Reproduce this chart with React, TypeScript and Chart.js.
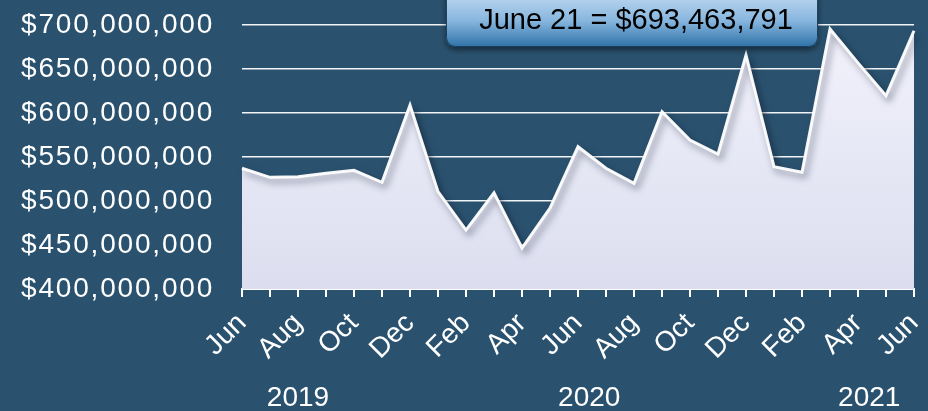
import React, { useEffect, useRef } from 'react';
import { Chart, registerables } from 'chart.js';

Chart.register(...registerables);

const months = ['Jun', 'Jul', 'Aug', 'Sep', 'Oct', 'Nov', 'Dec', 'Jan', 'Feb', 'Mar', 'Apr', 'May', 'Jun', 'Jul', 'Aug', 'Sep', 'Oct', 'Nov', 'Dec', 'Jan', 'Feb', 'Mar', 'Apr', 'May', 'Jun'];
const revenue = [537200000, 526900000, 527600000, 531500000, 534900000, 521300000, 609000000, 510600000, 467000000, 509400000, 446600000, 492000000, 561700000, 537200000, 520100000, 601500000, 569300000, 553400000, 665900000, 539000000, 532600000, 695500000, 657000000, 619700000, 693463791];
const yearLabels = ['2019', '2020', '2021'];
const yearLabelAt = [2, 12.4, 22.4];
const calloutLabel = 'June 21';
const yMin = 400000000;
const yMax = 700000000;
const yStep = 50000000;

const BG = '#2a526f';
const FONT = '"Liberation Sans", Arial, sans-serif';

export default function App() {
  const ref = useRef<HTMLCanvasElement | null>(null);

  useEffect(() => {
    const canvas = ref.current;
    if (!canvas) return;

    const bgPlugin = {
      id: 'bg',
      beforeDraw(chart: any) {
        const ctx = chart.ctx;
        ctx.save();
        ctx.fillStyle = BG;
        ctx.fillRect(0, 0, chart.width, chart.height);
        ctx.restore();
      },
    };

    const shadePlugin = {
      id: 'shade',
      beforeDatasetsDraw(chart: any) {
        const ctx = chart.ctx;
        ctx.save();
        ctx.shadowColor = 'rgba(20,30,50,0.55)';
        ctx.shadowBlur = 7;
        ctx.shadowOffsetX = 3;
        ctx.shadowOffsetY = 4;
      },
      afterDatasetsDraw(chart: any) {
        chart.ctx.restore();
        chart.ctx.letterSpacing = '1.8px';
      },
    };

    const overlayPlugin = {
      id: 'overlay',
      afterDraw(chart: any) {
        const ctx = chart.ctx;
        const ca = chart.chartArea;
        const xs = chart.scales.x;
        ctx.save();
        ctx.letterSpacing = '0px';

        // year labels
        ctx.fillStyle = '#ffffff';
        ctx.font = `28px ${FONT}`;
        ctx.textAlign = 'center';
        ctx.textBaseline = 'alphabetic';
        yearLabels.forEach((t, i) => {
          ctx.fillText(t, xs.getPixelForValue(yearLabelAt[i]), chart.height - 5);
        });

        // callout box
        const last = revenue.length - 1;
        const text = `${calloutLabel} = $${revenue[last].toLocaleString('en-US')}`;
        const x0 = ca.left + 204;
        const w = 372;
        const y0 = -12;
        const yb = ca.top + 22;
        const h = yb - y0;
        ctx.save();
        ctx.shadowColor = 'rgba(0,0,0,0.5)';
        ctx.shadowBlur = 6;
        ctx.shadowOffsetY = 3;
        const g = ctx.createLinearGradient(0, 0, 0, yb);
        g.addColorStop(0, '#b2d0ec');
        g.addColorStop(0.45, '#86b5de');
        g.addColorStop(1, '#2e72a7');
        ctx.fillStyle = g;
        ctx.beginPath();
        ctx.roundRect(x0, y0, w, h, 9);
        ctx.fill();
        ctx.restore();
        ctx.strokeStyle = 'rgba(20,55,85,0.9)';
        ctx.lineWidth = 1;
        ctx.beginPath();
        ctx.roundRect(x0 + 0.5, y0 + 0.5, w - 1, h - 1, 9);
        ctx.stroke();

        ctx.fillStyle = '#000000';
        ctx.font = `29px ${FONT}`;
        ctx.textAlign = 'center';
        ctx.fillText(text, x0 + w / 2 + 4, ca.top + 4);
        ctx.restore();
      },
    };

    const chart = new Chart(canvas, {
      type: 'line',
      data: {
        labels: months,
        datasets: [
          {
            data: revenue,
            fill: 'start',
            backgroundColor: (c: any) => {
              const ca = c.chart.chartArea;
              if (!ca) return '#e2e4f2';
              const g = c.chart.ctx.createLinearGradient(0, ca.top, 0, ca.bottom);
              g.addColorStop(0, '#f2f2fc');
              g.addColorStop(1, '#dcdeef');
              return g;
            },
            borderColor: 'rgba(255,255,255,0.95)',
            borderWidth: 3,
            borderJoinStyle: 'miter',
            pointRadius: 0,
            pointHoverRadius: 0,
            tension: 0,
            clip: false,
          } as any,
        ],
      },
      options: {
        animation: false,
        responsive: false,
        maintainAspectRatio: false,
        events: [],
        layout: { padding: { top: 25, right: 14, left: 0, bottom: 0 } },
        plugins: {
          legend: { display: false },
          tooltip: { enabled: false },
        },
        scales: {
          x: {
            grid: {
              drawOnChartArea: false,
              drawTicks: true,
              tickLength: 8,
              color: '#ffffff',
              lineWidth: 2,
            },
            border: { display: true, color: '#ffffff', width: 2 },
            ticks: {
              autoSkip: false,
              maxRotation: 45,
              minRotation: 45,
              color: '#ffffff',
              padding: 10,
              font: { family: FONT, size: 28 },
              callback: (_v: any, i: number) => (i % 2 === 0 ? months[i] : ''),
            },
            afterFit: (s: any) => {
              s.height = 122;
              s.paddingLeft = 0;
              s.paddingRight = 0;
            },
          },
          y: {
            min: yMin,
            max: yMax,
            ticks: {
              stepSize: yStep,
              color: '#ffffff',
              padding: 28,
              z: 1,
              font: { family: FONT, size: 28 },
              callback: (v: any) => '$' + Number(v).toLocaleString('en-US'),
            },
            grid: { color: '#f2f4f6', lineWidth: 1.5, drawTicks: false },
            border: { display: false },
            afterFit: (s: any) => {
              s.width = 242;
              s.paddingTop = 0;
              s.paddingBottom = 0;
            },
          },
        },
      } as any,
      plugins: [bgPlugin, shadePlugin, overlayPlugin],
    });

    return () => {
      chart.destroy();
    };
  }, []);

  return (
    <div style={{ position: 'fixed', left: 0, top: 0, width: 928, height: 411, background: BG }}>
      <canvas ref={ref} width={928} height={411} style={{ display: 'block', width: 928, height: 411 }} />
    </div>
  );
}
